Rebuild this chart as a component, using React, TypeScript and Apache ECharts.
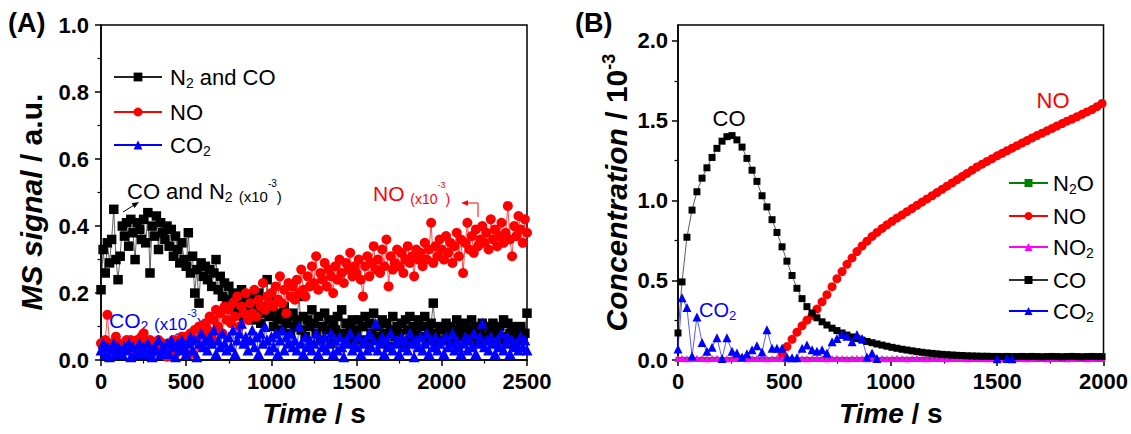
import React, { useEffect, useRef } from "react";
import * as echarts from "echarts";

const FONT = "'Liberation Sans', Arial, Helvetica, sans-serif";

// ---------------- Panel A (MS signal) ----------------
const TIME_A = [
  0, 12.5, 25, 37.5, 50, 62.5, 75, 87.5, 100, 112.5,
  125, 137.5, 150, 162.5, 175, 187.5, 200, 212.5, 225, 237.5,
  250, 262.5, 275, 287.5, 300, 312.5, 325, 337.5, 350, 362.5,
  375, 387.5, 400, 412.5, 425, 437.5, 450, 462.5, 475, 487.5,
  500, 512.5, 525, 537.5, 550, 562.5, 575, 587.5, 600, 612.5,
  625, 637.5, 650, 662.5, 675, 687.5, 700, 712.5, 725, 737.5,
  750, 762.5, 775, 787.5, 800, 812.5, 825, 837.5, 850, 862.5,
  875, 887.5, 900, 912.5, 925, 937.5, 950, 962.5, 975, 987.5,
  1000, 1012.5, 1025, 1037.5, 1050, 1062.5, 1075, 1087.5, 1100, 1112.5,
  1125, 1137.5, 1150, 1162.5, 1175, 1187.5, 1200, 1212.5, 1225, 1237.5,
  1250, 1262.5, 1275, 1287.5, 1300, 1312.5, 1325, 1337.5, 1350, 1362.5,
  1375, 1387.5, 1400, 1412.5, 1425, 1437.5, 1450, 1462.5, 1475, 1487.5,
  1500, 1512.5, 1525, 1537.5, 1550, 1562.5, 1575, 1587.5, 1600, 1612.5,
  1625, 1637.5, 1650, 1662.5, 1675, 1687.5, 1700, 1712.5, 1725, 1737.5,
  1750, 1762.5, 1775, 1787.5, 1800, 1812.5, 1825, 1837.5, 1850, 1862.5,
  1875, 1887.5, 1900, 1912.5, 1925, 1937.5, 1950, 1962.5, 1975, 1987.5,
  2000, 2012.5, 2025, 2037.5, 2050, 2062.5, 2075, 2087.5, 2100, 2112.5,
  2125, 2137.5, 2150, 2162.5, 2175, 2187.5, 2200, 2212.5, 2225, 2237.5,
  2250, 2262.5, 2275, 2287.5, 2300, 2312.5, 2325, 2337.5, 2350, 2362.5,
  2375, 2387.5, 2400, 2412.5, 2425, 2437.5, 2450, 2462.5, 2475, 2487.5,
  2500,
];

const N2CO_A = [
  0.21, 0.33, 0.26, 0.35, 0.29, 0.36, 0.45, 0.30, 0.24, 0.31,
  0.40, 0.37, 0.41, 0.34, 0.42, 0.38, 0.30, 0.41, 0.39, 0.36,
  0.42, 0.35, 0.44, 0.26, 0.40, 0.37, 0.43, 0.33, 0.41, 0.38,
  0.36, 0.40, 0.34, 0.39, 0.31, 0.37, 0.33, 0.29, 0.35, 0.30,
  0.28, 0.38, 0.26, 0.31, 0.20, 0.27, 0.17, 0.29, 0.25, 0.28,
  0.24, 0.27, 0.22, 0.26, 0.30, 0.21, 0.25, 0.19, 0.23, 0.18,
  0.22, 0.16, 0.20, 0.14, 0.19, 0.17, 0.21, 0.13, 0.18, 0.15,
  0.19, 0.12, 0.17, 0.15, 0.20, 0.11, 0.16, 0.14, 0.24, 0.13,
  0.15, 0.10, 0.18, 0.12, 0.14, 0.09, 0.16, 0.11, 0.13, 0.08,
  0.14, 0.10, 0.12, 0.19, 0.09, 0.13, 0.07, 0.12, 0.10, 0.15,
  0.11, 0.08, 0.13, 0.06, 0.10, 0.14, 0.09, 0.12, 0.05, 0.11,
  0.09, 0.13, 0.07, 0.15, 0.08, 0.11, 0.06, 0.10, 0.12, 0.07,
  0.09, 0.12, 0.06, 0.10, 0.13, 0.05, 0.11, 0.08, 0.14, 0.07,
  0.10, 0.06, 0.12, 0.08, 0.11, 0.04, 0.09, 0.13, 0.07, 0.10,
  0.08, 0.11, 0.05, 0.12, 0.09, 0.13, 0.06, 0.10, 0.08, 0.12,
  0.07, 0.10, 0.13, 0.06, 0.09, 0.11, 0.17, 0.08, 0.05, 0.10,
  0.09, 0.06, 0.11, 0.08, 0.10, 0.05, 0.09, 0.12, 0.07, 0.10,
  0.08, 0.11, 0.06, 0.09, 0.12, 0.07, 0.10, 0.05, 0.09, 0.11,
  0.07, 0.10, 0.06, 0.09, 0.11, 0.05, 0.08, 0.10, 0.07, 0.12,
  0.06, 0.11, 0.08, 0.10, 0.05, 0.09, 0.07, 0.10, 0.06, 0.08,
  0.14,
];

const NO_A = [
  0.05, 0.04, 0.06, 0.135, 0.05, 0.03, 0.04, 0.07, 0.05, 0.04,
  0.03, 0.05, 0.06, 0.04, 0.06, 0.05, 0.03, 0.06, 0.04, 0.07,
  0.08, 0.05, 0.04, 0.06, 0.02, 0.05, 0.04, 0.06, 0.03, 0.05,
  0.04, 0.01, 0.05, 0.03, 0.06, 0.02, 0.05, 0.04, 0.07, 0.03,
  0.07, 0.05, 0.08, 0.02, 0.09, 0.06, 0.10, 0.04, 0.08, 0.11,
  0.09, 0.13, 0.07, 0.12, 0.15, 0.10, 0.14, 0.08, 0.16, 0.12,
  0.15, 0.11, 0.17, 0.13, 0.19, 0.10, 0.16, 0.14, 0.20, 0.12,
  0.17, 0.14, 0.21, 0.13, 0.18, 0.16, 0.23, 0.15, 0.19, 0.17,
  0.20, 0.16, 0.22, 0.18, 0.25, 0.17, 0.21, 0.14, 0.23, 0.19,
  0.22, 0.18, 0.24, 0.20, 0.27, 0.21, 0.19, 0.25, 0.22, 0.28,
  0.23, 0.31, 0.21, 0.26, 0.24, 0.29, 0.22, 0.27, 0.25, 0.20,
  0.28, 0.24, 0.30, 0.26, 0.23, 0.29, 0.27, 0.32, 0.25, 0.28,
  0.26, 0.30, 0.24, 0.19, 0.28, 0.31, 0.25, 0.29, 0.34, 0.27,
  0.30, 0.26, 0.33, 0.28, 0.36, 0.22, 0.31, 0.27, 0.29, 0.33,
  0.28, 0.32, 0.26, 0.30, 0.34, 0.29, 0.31, 0.25, 0.33, 0.30,
  0.32, 0.28, 0.35, 0.30, 0.33, 0.41, 0.29, 0.34, 0.31, 0.36,
  0.33, 0.30, 0.37, 0.32, 0.35, 0.29, 0.34, 0.38, 0.31, 0.36,
  0.26, 0.35, 0.41, 0.33, 0.37, 0.32, 0.39, 0.34, 0.36, 0.40,
  0.35, 0.38, 0.33, 0.42, 0.36, 0.39, 0.34, 0.37, 0.41, 0.35,
  0.38, 0.46, 0.36, 0.31, 0.40, 0.37, 0.43, 0.39, 0.35, 0.42,
  0.38,
];

const CO2_A = [
  0.03, 0.05, 0.02, 0.04, 0.01, 0.03, 0.05, 0.02, 0.04, 0.03,
  0.02, 0.04, 0.03, 0.05, 0.01, 0.04, 0.02, 0.03, 0.05, 0.02,
  0.04, 0.02, 0.05, 0.03, 0.01, 0.04, 0.03, 0.06, 0.02, 0.04,
  0.03, 0.05, 0.02, 0.06, 0.04, 0.01, 0.05, 0.03, 0.06, 0.04,
  0.02, 0.05, 0.07, 0.03, 0.06, 0.01, 0.05, 0.08, 0.04, 0.06,
  0.03, 0.07, 0.05, 0.09, 0.02, 0.06, 0.04, 0.08, 0.05, 0.03,
  0.07, 0.04, 0.09, 0.02, 0.06, 0.08, 0.11, 0.05, 0.07, 0.03,
  0.06, 0.09, 0.04, 0.07, 0.02, 0.08, 0.05, 0.10, 0.06, 0.03,
  0.07, 0.04, 0.08, 0.02, 0.06, 0.09, 0.03, 0.07, 0.05, 0.08,
  0.04, 0.06, 0.03, 0.10, 0.05, 0.02, 0.07, 0.04, 0.06, 0.03,
  0.05, 0.08, 0.02, 0.06, 0.04, 0.07, 0.03, 0.05, 0.08, 0.02,
  0.06, 0.03, 0.07, 0.04, 0.01, 0.06, 0.05, 0.08, 0.03, 0.05,
  0.04, 0.07, 0.02, 0.05, 0.06, 0.03, 0.08, 0.04, 0.06, 0.11,
  0.03, 0.05, 0.07, 0.02, 0.06, 0.04, 0.08, 0.03, 0.05, 0.06,
  0.02, 0.07, 0.04, 0.06, 0.03, 0.08, 0.05, 0.01, 0.06, 0.04,
  0.07, 0.03, 0.05, 0.08, 0.02, 0.06, 0.04, 0.07, 0.03, 0.05,
  0.06, 0.02, 0.07, 0.04, 0.05, 0.08, 0.03, 0.06, 0.04, 0.02,
  0.05, 0.07, 0.03, 0.06, 0.04, 0.08, 0.02, 0.05, 0.07, 0.11,
  0.04, 0.06, 0.03, 0.07, 0.05, 0.02, 0.06, 0.04, 0.08, 0.03,
  0.05, 0.07, 0.02, 0.06, 0.04, 0.05, 0.03, 0.07, 0.04, 0.06,
  0.03,
];

// ---------------- Panel B (concentration / 1e-3) ----------------
const TIME_B = [
  0, 19, 42, 66, 89, 113, 136, 160, 183, 207,
  230, 254, 277, 301, 324, 348, 371, 395, 418, 442,
  465, 489, 512, 536, 559, 583, 606, 630, 653, 677,
  700, 724, 747, 771, 794, 818, 841, 865, 888, 912,
  935, 959, 982, 1006, 1029, 1053, 1076, 1100, 1123, 1147,
  1170, 1194, 1217, 1241, 1264, 1288, 1311, 1335, 1358, 1382,
  1405, 1429, 1452, 1476, 1500, 1523, 1546, 1570, 1593, 1617,
  1640, 1664, 1687, 1711, 1734, 1758, 1781, 1805, 1828, 1852,
  1875, 1899, 1922, 1946, 1969, 1993,
];

const N2O_B = [
  0.004, 0.004, 0.005, 0.004, 0.004, 0.005, 0.004, 0.004, 0.005, 0.004,
  0.004, 0.005, 0.004, 0.004, 0.005, 0.004, 0.004, 0.005, 0.004, 0.004,
  0.005, 0.004, 0.004, 0.005, 0.004, 0.004, 0.005, 0.004, 0.004, 0.005,
  0.004, 0.004, 0.005, 0.004, 0.004, 0.005, 0.004, 0.004, 0.005, 0.004,
  0.004, 0.005, 0.004, 0.004, 0.005, 0.004, 0.004, 0.005, 0.004, 0.004,
  0.005, 0.004, 0.004, 0.005, 0.004, 0.004, 0.005, 0.004, 0.004, 0.005,
  0.004, 0.004, 0.005, 0.004, 0.004, 0.005, 0.004, 0.004, 0.005, 0.004,
  0.004, 0.005, 0.004, 0.004, 0.005, 0.004, 0.004, 0.005, 0.004, 0.004,
  0.005, 0.004, 0.004, 0.005, 0.004, 0.004,
];

const NO_B = [
  null, null, null, null, null, null, null, null, null, null,
  null, null, null, null, null, null, null, null, null, null,
  null, 0.04, 0.085, 0.13, 0.175, 0.215, 0.25, 0.28, 0.32, 0.365,
  0.41, 0.46, 0.51, 0.555, 0.6, 0.64, 0.68, 0.715, 0.745, 0.775,
  0.8, 0.825, 0.848, 0.87, 0.89, 0.91, 0.93, 0.95, 0.97, 0.99,
  1.01, 1.03, 1.05, 1.07, 1.09, 1.11, 1.13, 1.15, 1.17, 1.19,
  1.21, 1.228, 1.245, 1.262, 1.28, 1.296, 1.312, 1.328, 1.344, 1.36,
  1.376, 1.392, 1.407, 1.422, 1.437, 1.452, 1.467, 1.482, 1.497, 1.511,
  1.525, 1.54, 1.555, 1.57, 1.588, 1.608,
];

const NO2_B = [
  0.010, 0.011, 0.009, 0.010, 0.011, 0.010, 0.009, 0.010, 0.011, 0.010,
  0.009, 0.010, 0.011, 0.010, 0.009, 0.010, 0.011, 0.010, 0.009, 0.010,
  0.011, 0.010, 0.009, 0.010, 0.011, 0.010, 0.009, 0.010, 0.011, 0.010,
  0.009, 0.010, 0.011, 0.010, 0.009, 0.010, 0.011, 0.010, 0.009, 0.010,
  0.011, 0.010, 0.009, 0.010, 0.011, 0.010, 0.009, 0.010, 0.011, 0.010,
  0.009, 0.010, 0.011, 0.010, 0.009, 0.010, 0.011, 0.010, 0.009, 0.010,
  0.011, 0.010, 0.009, 0.010, 0.011, 0.010, 0.009, 0.010, 0.011, 0.010,
  0.009, 0.010, 0.011, 0.010, 0.009, 0.010, 0.011, 0.010, 0.009, 0.010,
  0.011, 0.010, 0.009, 0.010, 0.011, 0.010,
];

const CO_B = [
  0.17, 0.49, 0.77, 0.94, 1.055, 1.14, 1.205, 1.27, 1.327, 1.372,
  1.4, 1.407, 1.38, 1.335, 1.264, 1.19, 1.12, 1.03, 0.96, 0.88,
  0.8, 0.71, 0.62, 0.53, 0.45, 0.385, 0.335, 0.295, 0.265, 0.24,
  0.22, 0.2, 0.185, 0.17, 0.157, 0.145, 0.135, 0.125, 0.117, 0.109,
  0.101, 0.094, 0.087, 0.08, 0.074, 0.068, 0.063, 0.058, 0.053, 0.049,
  0.045, 0.042, 0.039, 0.036, 0.034, 0.032, 0.03, 0.029, 0.027, 0.026,
  0.025, 0.024, 0.024, 0.023, 0.023, 0.022, 0.023, 0.022, 0.022, 0.023,
  0.022, 0.023, 0.022, 0.021, 0.022, 0.023, 0.022, 0.021, 0.022, 0.023,
  0.022, 0.021, 0.022, 0.023, 0.022, 0.022,
];

const CO2_B = [
  0.07, 0.39, 0.33, 0.025, 0.27, 0.11, 0.055, 0.08, 0.14, 0.01,
  0.14, 0.055, 0.045, 0.02, 0.04, 0.065, 0.09, 0.05, 0.19, 0.075,
  0.075, 0.075, 0.02, 0.015, 0.015, 0.075, 0.095, 0.065, 0.055, 0.065,
  0.045, 0.115, 0.135, 0.16, 0.15, 0.115, 0.16, 0.135, 0.02, 0.045,
  0.01, null, null, null, null, null, null, null, null, null,
  null, null, null, null, null, null, null, null, null, null,
  null, null, null, null, 0.008, null, 0.01, 0.008, null, null,
  null, null, null, null, null, null, null, null, null, null,
  null, null, null, null, null, null,
];

const X_TICK_STEP = 500;
const Y_TICKS_B = [0, 0.5, 1.0, 1.5, 2.0];
const Y_MINOR_TICKS_B = [0.25, 0.75, 1.25, 1.75];

const LEGEND_LABELS: Record<string, string> = {
  "N2 and CO": "{m|N}{s|2}{m| and CO}",
  NO: "{m|NO}",
  CO2: "{m|CO}{s|2}",
  N2O: "{m|N}{s|2}{m|O}",
  NO2: "{m|NO}{s|2}",
  CO: "{m|CO}",
};

function pairs(t: number[], v: (number | null)[]) {
  return t.map((x, i) => (v[i] == null ? [x, "-"] : [x, v[i]]));
}

function optRich(color: string, F: number) {
  return {
    m: { fontSize: F, lineHeight: F + 4, fontFamily: FONT, color },
    s: {
      fontSize: Math.round(F * 0.65),
      lineHeight: 10,
      verticalAlign: "bottom",
      fontFamily: FONT,
      color,
    },
  };
}

function gRich(color: string, F: number, f: number) {
  return {
    m: { fontSize: F, lineHeight: F + 4, fontFamily: FONT, fill: color },
    s: {
      fontSize: Math.round(F * 0.65),
      lineHeight: 10,
      verticalAlign: "bottom",
      fontFamily: FONT,
      fill: color,
    },
    p: {
      fontSize: f,
      lineHeight: Math.round(0.3 * F + 4 + 0.7 * f),
      verticalAlign: "bottom",
      fontFamily: FONT,
      fill: color,
    },
    u: {
      fontSize: Math.round(f * 0.65),
      lineHeight: 14,
      verticalAlign: "top",
      fontFamily: FONT,
      fill: color,
    },
  };
}

const tickLabel = {
  color: "#000",
  fontSize: 22,
  fontWeight: "bold",
  fontFamily: FONT,
};

function nameStyle(F: number, sup: number, padding: number[]) {
  return {
    color: "#000",
    fontSize: F,
    fontWeight: "bold",
    fontFamily: FONT,
    lineHeight: F + 4,
    padding,
    rich: {
      i: {
        fontSize: F,
        fontWeight: "bold",
        fontStyle: "italic",
        fontFamily: FONT,
        color: "#000",
        lineHeight: F + 4,
      },
      n: {
        fontSize: F,
        fontWeight: "bold",
        fontFamily: FONT,
        color: "#000",
        lineHeight: F + 4,
      },
      u: {
        fontSize: sup,
        fontWeight: "bold",
        fontFamily: FONT,
        color: "#000",
        lineHeight: sup + 1,
        verticalAlign: "top",
      },
    },
  };
}

const axisLine = { show: true, lineStyle: { color: "#000", width: 1.5 } };
const axisTick = { show: true, length: 6, lineStyle: { color: "#000", width: 1.5 } };
const minorTick = {
  show: true,
  splitNumber: 2,
  length: 3.5,
  lineStyle: { color: "#000", width: 1.2 },
};

function xAxis(gridIndex: number, max: number) {
  return {
    type: "value",
    gridIndex,
    min: 0,
    max,
    interval: X_TICK_STEP,
    axisLine,
    axisTick,
    minorTick,
    splitLine: { show: false },
    minorSplitLine: { show: false },
    axisLabel: { ...tickLabel, margin: 10, formatter: (v: number) => String(v) },
    name: "{i|Time} {n|/ s}",
    nameLocation: "middle",
    nameGap: 34,
    nameTextStyle: nameStyle(28, 17, [0, 0, 0, 0]),
  };
}

function lineSeries(
  name: string,
  xi: number,
  yi: number,
  data: any[],
  color: string,
  lineColor: string,
  symbol: string,
  size: number,
  width: number
) {
  return {
    type: "line",
    name,
    xAxisIndex: xi,
    yAxisIndex: yi,
    data,
    symbol,
    symbolSize: size,
    showSymbol: true,
    showAllSymbol: true,
    connectNulls: false,
    itemStyle: { color, borderWidth: 0 },
    lineStyle: { color: lineColor, width },
    emphasis: { disabled: true },
  };
}

function arrowHead(tip: number[], from: number[], len: number, half: number) {
  const dx = tip[0] - from[0];
  const dy = tip[1] - from[1];
  const d = Math.hypot(dx, dy);
  const ux = dx / d;
  const uy = dy / d;
  const bx = tip[0] - ux * len;
  const by = tip[1] - uy * len;
  return [
    tip,
    [bx - uy * half, by + ux * half],
    [bx + uy * half, by - ux * half],
  ];
}

export default function App() {
  const ref = useRef<HTMLDivElement>(null);

  useEffect(() => {
    if (!ref.current) return;
    const chart = echarts.init(ref.current, null, { renderer: "svg" });

    const blackArrow = arrowHead([139, 202], [123, 212], 7, 2.8);
    const redArrow = arrowHead([461, 203], [478, 203], 7, 2.8);
    const blueArrow = arrowHead([195, 334], [176, 334], 7, 2.8);

    const option: any = {
      animation: false,
      backgroundColor: "#fff",
      grid: [
        {
          left: 101,
          top: 25,
          width: 426,
          height: 345,
          show: true,
          borderColor: "#000",
          borderWidth: 1.5,
          backgroundColor: "transparent",
          containLabel: false,
        },
        {
          left: 678,
          top: 25,
          width: 427,
          height: 344,
          show: true,
          borderColor: "#000",
          borderWidth: 1.5,
          backgroundColor: "transparent",
          containLabel: false,
        },
      ],
      xAxis: [xAxis(0, 2500), xAxis(1, 2000)],
      yAxis: [
        {
          type: "value",
          gridIndex: 0,
          min: 0,
          max: 1,
          interval: 0.2,
          axisLine,
          axisTick,
          minorTick,
          splitLine: { show: false },
          axisLabel: {
            ...tickLabel,
            margin: 12,
            formatter: (v: number) => v.toFixed(1),
          },
          name: "{i|MS signal} {n|/ a.u.}",
          nameLocation: "middle",
          nameRotate: 90,
          nameGap: 53,
          nameTextStyle: nameStyle(30, 18, [0, 19, 0, 0]),
        },
        {
          type: "value",
          gridIndex: 1,
          min: 0,
          max: 2.1,
          interval: 0.5,
          axisLine,
          axisTick: { ...axisTick, customValues: Y_TICKS_B },
          splitLine: { show: false },
          axisLabel: {
            ...tickLabel,
            margin: 10,
            customValues: Y_TICKS_B,
            formatter: (v: number) => (v > 2.05 ? "" : v.toFixed(1)),
          },
          name: "{i|Concentration} {n|/ 10}{u|-3}",
          nameLocation: "middle",
          nameRotate: 90,
          nameGap: 38,
          nameTextStyle: nameStyle(30, 18, [0, 0, 0, 0]),
        },
        {
          type: "value",
          gridIndex: 1,
          position: "left",
          min: 0,
          max: 2.1,
          interval: 0.5,
          axisLine: { show: false },
          axisLabel: { show: false },
          splitLine: { show: false },
          axisTick: {
            show: true,
            length: 3.5,
            customValues: Y_MINOR_TICKS_B,
            lineStyle: { color: "#000", width: 1.2 },
          },
        },
      ],
      legend: [
        {
          orient: "vertical",
          left: 108,
          top: 61,
          itemWidth: 48,
          itemHeight: 11,
          itemGap: 11,
          data: ["N2 and CO", "NO", "CO2"],
          formatter: (n: string) => LEGEND_LABELS[n] || n,
          textStyle: {
            color: "#000",
            fontSize: 22,
            fontFamily: FONT,
            padding: [0, 0, 0, 3],
            rich: optRich("#000", 22),
          },
          selectedMode: false,
        },
        {
          orient: "vertical",
          left: 1003,
          top: 167,
          itemWidth: 39,
          itemHeight: 10,
          itemGap: 9,
          data: ["N2O", "NO", "NO2", "CO", "CO2"],
          formatter: (n: string) => LEGEND_LABELS[n] || n,
          textStyle: {
            color: "#000",
            fontSize: 22,
            fontFamily: FONT,
            rich: optRich("#000", 22),
          },
          selectedMode: false,
        },
      ],
      series: [
        lineSeries("N2 and CO", 0, 0, pairs(TIME_A, N2CO_A), "#000", "#222", "rect", 9.5, 0.7),
        lineSeries("NO", 0, 0, pairs(TIME_A, NO_A), "#ff0000", "#ff0000", "circle", 10, 0.7),
        lineSeries("CO2", 0, 0, pairs(TIME_A, CO2_A), "#0000ff", "#0000ff", "triangle", 11, 0.7),
        lineSeries("N2O", 1, 1, pairs(TIME_B, N2O_B), "#008000", "#008000", "rect", 5, 1),
        lineSeries("NO", 1, 1, pairs(TIME_B, NO_B), "#ff0000", "#ff6060", "circle", 9, 0.8),
        lineSeries("NO2", 1, 1, pairs(TIME_B, NO2_B), "#ff00ff", "#ff00ff", "triangle", 7, 2),
        lineSeries("CO", 1, 1, pairs(TIME_B, CO_B), "#000", "#333", "rect", 7, 0.8),
        lineSeries("CO2", 1, 1, pairs(TIME_B, CO2_B), "#0000ff", "#3030ff", "triangle", 9, 0.8),
      ],
      graphic: [
        {
          type: "text",
          left: 8,
          top: 9,
          style: { text: "(A)", fontSize: 27, fontWeight: "bold", fontFamily: FONT, fill: "#000" },
        },
        {
          type: "text",
          left: 575,
          top: 9,
          style: { text: "(B)", fontSize: 27, fontWeight: "bold", fontFamily: FONT, fill: "#000" },
        },
        {
          type: "text",
          x: 127,
          y: 191,
          style: {
            text: "{m|CO and N}{s|2}{m| }{p|(x10}{u|-3}{p|)}",
            align: "left",
            verticalAlign: "middle",
            rich: gRich("#000", 22, 15),
          },
        },
        {
          type: "text",
          x: 373,
          y: 193,
          style: {
            text: "{m|NO }{p|(x10}{u|-3}{p|)}",
            align: "left",
            verticalAlign: "middle",
            rich: gRich("#ff0000", 21, 14),
          },
        },
        {
          type: "text",
          x: 109,
          y: 320,
          style: {
            text: "{m|CO}{s|2}{m| }{p|(x10}{u|-3}{p|)}",
            align: "left",
            verticalAlign: "middle",
            rich: gRich("#0000ff", 21, 17),
          },
        },
        {
          type: "polyline",
          shape: { points: [[123, 212], [135, 204.5]] },
          style: { stroke: "#000", lineWidth: 1, fill: null },
        },
        { type: "polygon", shape: { points: blackArrow }, style: { fill: "#000" } },
        {
          type: "polyline",
          shape: { points: [[478, 217], [478, 203], [466, 203]] },
          style: { stroke: "#ff0000", lineWidth: 1, fill: null },
        },
        { type: "polygon", shape: { points: redArrow }, style: { fill: "#ff0000" } },
        {
          type: "polyline",
          shape: { points: [[176, 346], [176, 334], [189, 334]] },
          style: { stroke: "#0000ff", lineWidth: 1, fill: null },
        },
        { type: "polygon", shape: { points: blueArrow }, style: { fill: "#0000ff" } },
        {
          type: "text",
          x: 729,
          y: 118,
          style: {
            text: "CO",
            align: "center",
            verticalAlign: "middle",
            fontSize: 22,
            fontFamily: FONT,
            fill: "#000",
          },
        },
        {
          type: "text",
          x: 1053,
          y: 100,
          style: {
            text: "NO",
            align: "center",
            verticalAlign: "middle",
            fontSize: 22,
            fontFamily: FONT,
            fill: "#ff0000",
          },
        },
        {
          type: "text",
          x: 699,
          y: 310,
          style: {
            text: "{m|CO}{s|2}",
            align: "left",
            verticalAlign: "middle",
            rich: gRich("#0000ff", 20, 14),
          },
        },
      ],
    };

    chart.setOption(option);
    return () => chart.dispose();
  }, []);

  return (
    <div
      ref={ref}
      style={{
        position: "fixed",
        left: 0,
        top: 0,
        width: 1131,
        height: 434,
        background: "#fff",
      }}
    />
  );
}
